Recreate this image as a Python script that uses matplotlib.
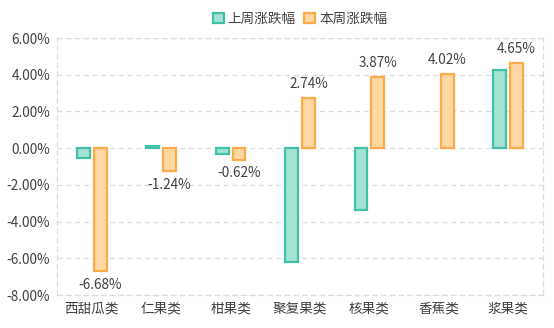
import matplotlib.pyplot as plt
import numpy as np
from matplotlib.ticker import FuncFormatter

plt.rcParams['font.family'] = ['Noto Sans CJK SC', 'DejaVu Sans']

categories = ['西甜瓜类', '仁果类', '柑果类', '聚复果类', '核果类', '香蕉类', '浆果类']
# 香蕉类 has no figure for last week
last_week = [-0.51, 0.12, -0.34, -6.18, -3.38, np.nan, 4.28]
this_week = [-6.68, -1.24, -0.62, 2.74, 3.87, 4.02, 4.65]
series_names = ['上周涨跌幅', '本周涨跌幅']

teal_edge, teal_fill = '#40c1a4', '#a2e3d4'
orange_edge, orange_fill = '#fdab48', '#ffd8a1'
text_color = '#404040'
grid_color = '#dcdcdc'

fig = plt.figure(figsize=(5.54, 3.28), dpi=100)
ax = fig.add_axes([0.103, 0.1006, 0.877, 0.7835])

x = np.arange(len(categories))
w = 0.185
off = 0.122
ax.bar(x - off, last_week, w, color=teal_fill, edgecolor=teal_edge, linewidth=1.6,
       label=series_names[0], zorder=3)
ax.bar(x + off, this_week, w, color=orange_fill, edgecolor=orange_edge, linewidth=1.6,
       label=series_names[1], zorder=3)

for xi, v in zip(x + off, this_week):
    if v >= 0:
        ax.annotate(f'{v:.2f}%', (xi, v), xytext=(0, 5), textcoords='offset points',
                    ha='center', va='bottom', fontsize=9.8, color=text_color)
    else:
        ax.annotate(f'{v:.2f}%', (xi, v), xytext=(0, -5), textcoords='offset points',
                    ha='center', va='top', fontsize=9.8, color=text_color)

ax.set_xlim(-0.5, len(categories) - 0.5)
ax.set_ylim(-8, 6)
ax.set_yticks(np.arange(-8, 7, 2))
ax.yaxis.set_major_formatter(FuncFormatter(lambda v, _: f'{v:.2f}%'))
ax.set_xticks(x)
ax.set_xticklabels(categories)
ax.tick_params(length=0, labelsize=9.8, colors=text_color)
ax.tick_params(axis='x', pad=5)
ax.tick_params(axis='y', pad=5)

ax.grid(axis='y', color=grid_color, linestyle=(0, (4, 3)), linewidth=0.9, zorder=0)
for s in ax.spines.values():
    s.set_color(grid_color)
    s.set_linestyle((0, (4, 3)))
    s.set_linewidth(0.9)

ax.legend(loc='lower center', bbox_to_anchor=(0.5, 1.0), ncol=2, frameon=False,
          fontsize=9.8, handlelength=0.8, handleheight=0.8, handletextpad=0.3,
          columnspacing=0.6, labelcolor=text_color, borderaxespad=0.5)

fig.savefig('out.png', dpi=100)
